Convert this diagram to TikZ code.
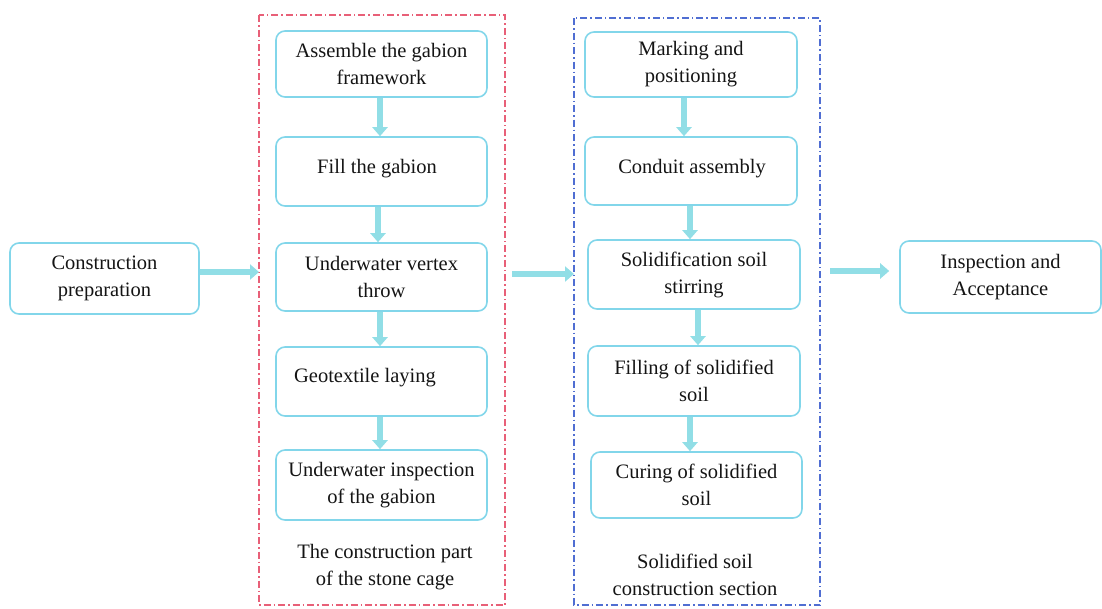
\documentclass[tikz,border=0pt]{standalone}
\usepackage{fontspec}
\setmainfont{LiberationSerif}[Extension=.ttf, UprightFont=*-Regular, BoldFont=*-Bold]
\usetikzlibrary{arrows.meta}
\definecolor{boxc}{RGB}{130,214,234}
\definecolor{arrc}{RGB}{145,222,230}
\definecolor{redf}{RGB}{232,96,120}
\definecolor{bluef}{RGB}{80,110,210}
\definecolor{txt}{RGB}{20,20,20}
\tikzset{
  x=1pt, y=-1pt,
  every node/.style={font=\fontsize{20.5}{27}\selectfont, text=txt, align=center},
  box/.style={draw=boxc, line width=1.6pt, rounded corners=9pt, inner sep=0pt},
  frame/.style={line width=1.1pt, dash pattern=on 7pt off 3pt on 1.5pt off 3pt},
  arr/.style={draw=arrc, line width=6.5pt, -{Triangle[length=9pt,width=15pt]}, shorten >=0pt},
}
\begin{document}
\begin{tikzpicture}
\useasboundingbox (0,0) rectangle (1102,608);
% frames
\draw[frame, draw=redf] (259,15) rectangle (505,605);
\draw[frame, draw=bluef] (574,18) rectangle (820,605);
\coordinate (fAw) at (259,272);
\coordinate (fAe) at (505,274);
\coordinate (fBw) at (574,274);
\coordinate (fBe) at (820,271);
% nodes
\node[box, minimum width=189pt, minimum height=71pt] (prep) at (104.5,278.5) {Construction\\preparation};
\node[box, minimum width=211pt, minimum height=66pt] (A1) at (381.5,64) {Assemble the gabion\\framework};
\node[box, minimum width=211pt, minimum height=69pt] (A2) at (381.5,171.5) {};
\node at (377,169) {Fill the gabion};
\node[box, minimum width=211pt, minimum height=68pt] (A3) at (381.5,277) {Underwater vertex\\throw};
\node[box, minimum width=211pt, minimum height=69pt] (A4) at (381.5,381.5) {};
\node at (365,378) {Geotextile laying};
\node[box, minimum width=211pt, minimum height=70pt] (A5) at (381.5,485) {Underwater inspection\\of the gabion};
\node (capA) at (385,567) {The construction part\\of the stone cage};
\node[box, minimum width=212pt, minimum height=65pt] (B1) at (691,64.5) {Marking and\\positioning};
\node[box, minimum width=212pt, minimum height=68pt] (B2) at (691,171) {};
\node at (692,169) {Conduit assembly};
\node[box, minimum width=212pt, minimum height=69pt] (B3) at (694,274.5) {Solidification soil\\stirring};
\node[box, minimum width=212pt, minimum height=70pt] (B4) at (694,381) {Filling of solidified\\soil};
\node[box, minimum width=211pt, minimum height=66pt] (B5) at (696.5,485) {Curing of solidified\\soil};
\node (capB) at (695,575) {Solidified soil\\construction section};
\node[box, minimum width=201pt, minimum height=72pt] (C) at (1000.5,277) {Inspection and\\Acceptance};
% horizontal arrows
\draw[arr] ([yshift=6.5pt]prep.east) -- (fAw);
\draw[arr] ([xshift=7pt]fAe) -- (fBw);
\draw[arr] ([xshift=10pt]fBe) -- ([xshift=-10pt]C.west |- fBe);
% vertical arrows left
\draw[arr] ([xshift=-1.5pt]A1.south) -- ([xshift=-1.5pt]A2.north);
\draw[arr] ([xshift=-3.5pt]A2.south) -- ([xshift=-3.5pt]A3.north);
\draw[arr] ([xshift=-1.5pt]A3.south) -- ([xshift=-1.5pt]A4.north);
\draw[arr] ([xshift=-1.5pt]A4.south) -- ([xshift=-1.5pt]A5.north);
% vertical arrows right
\draw[arr] ([xshift=-7pt]B1.south) -- ([xshift=-7pt]B1.south |- B2.north);
\draw[arr] ([xshift=-1pt]B2.south) -- ([xshift=-1pt]B2.south |- B3.north);
\draw[arr] ([xshift=4pt]B3.south) -- ([xshift=4pt]B3.south |- B4.north);
\draw[arr] ([xshift=-4pt]B4.south) -- ([xshift=-4pt]B4.south |- B5.north);
\end{tikzpicture}
\end{document}
